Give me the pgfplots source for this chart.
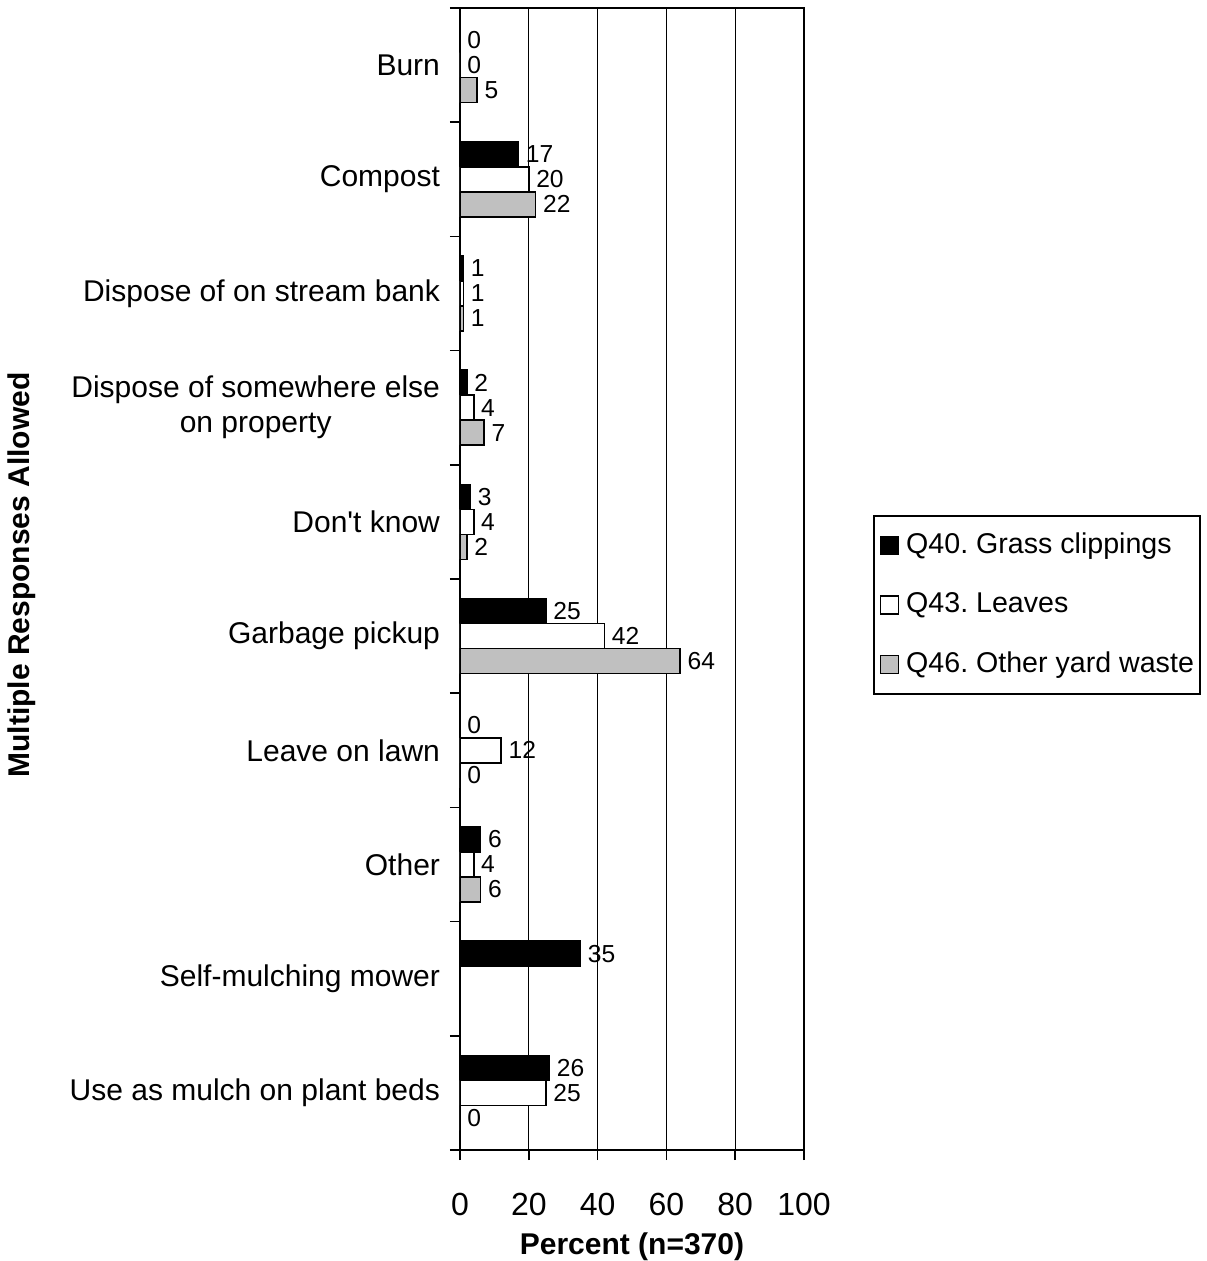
\documentclass[border=0pt]{standalone}
\usepackage{pgfplots}
\pgfplotsset{compat=1.18}
\usepackage{fontspec}
\setmainfont{Liberation Sans}
\definecolor{barGray}{RGB}{192,192,192}
\frenchspacing

\begin{document}
\begin{tikzpicture}
% canvas = reference size at 0.5pt per pixel
\useasboundingbox (-230pt,-55.5pt) rectangle (373pt,575pt);
\begin{axis}[
    at={(0pt,0pt)}, anchor=south west,
    width=172pt, height=571pt, scale only axis,
    /pgf/number format/assume math mode=true,
    xbar, bar width=12.5pt,
    xmin=0, xmax=100, ymin=-0.5, ymax=9.5,
    xtick={0,20,...,100},
    ytick={-0.5,0.5,...,9.5},
    y tick label as interval,
    yticklabels={Use as mulch on plant beds, Self-mulching mower, Other, Leave on lawn, Garbage pickup, Don\textquotesingle t know, {Dispose of somewhere else\\on property}, Dispose of on stream bank, Compost, Burn},
    xtick pos=bottom, ytick pos=left,
    tick align=outside, major tick length=5pt,
    tick style={black, line width=0.8pt},
    axis line style={line width=1pt},
    xmajorgrids, grid style={black, line width=0.6pt},
    xticklabel style={font=\fontsize{16}{19}\selectfont, yshift=-13pt},
    yticklabel style={font=\fontsize{15}{17.5}\selectfont, align=center, xshift=-1.5pt},
    xlabel={\textbf{Percent (n=370)}},
    ylabel={\textbf{Multiple Responses Allowed}},
    label style={font=\fontsize{15}{18}\selectfont},
    xlabel style={at={(axis description cs:0.5,0)}, anchor=center, yshift=-48.5pt},
    ylabel style={at={(axis description cs:-1.2733,0.5035)}, anchor=center},
    nodes near coords,
    every node near coord/.append style={font=\fontsize{12.3}{14}\selectfont, anchor=west, text=black},
    legend image code/.code={\draw[#1, line width=0.6pt] (0pt,-4.5pt) rectangle (9pt,4.5pt);},
    legend cell align=left,
    legend style={at={(axis description cs:1.2006,0.556)}, anchor=north west,
        draw=black, line width=1pt, inner xsep=3pt, inner ysep=8pt, row sep=16.25pt,
        font=\fontsize{14.3}{17}\selectfont,
        nodes={inner sep=0pt, text height=10.5pt, text depth=3pt},
        /tikz/every odd column/.append style={column sep=3.5pt}},
]
\addplot[fill=black, draw=black, line width=0.8pt, bar shift=12.5pt]
    coordinates {(26,0) (35,1) (6,2) (0,3) (25,4) (3,5) (2,6) (1,7) (17,8) (0,9)};
\addlegendentry{Q40. Grass clippings}
\addplot[fill=white, draw=black, line width=0.8pt, bar shift=0pt]
    coordinates {(25,0) (4,2) (12,3) (42,4) (4,5) (4,6) (1,7) (20,8) (0,9)};
\addlegendentry{Q43. Leaves}
\addplot[fill=barGray, draw=black, line width=0.8pt, bar shift=-12.5pt]
    coordinates {(0,0) (6,2) (0,3) (64,4) (2,5) (7,6) (1,7) (22,8) (5,9)};
\addlegendentry{Q46. Other yard waste}
\end{axis}
\end{tikzpicture}
\end{document}
